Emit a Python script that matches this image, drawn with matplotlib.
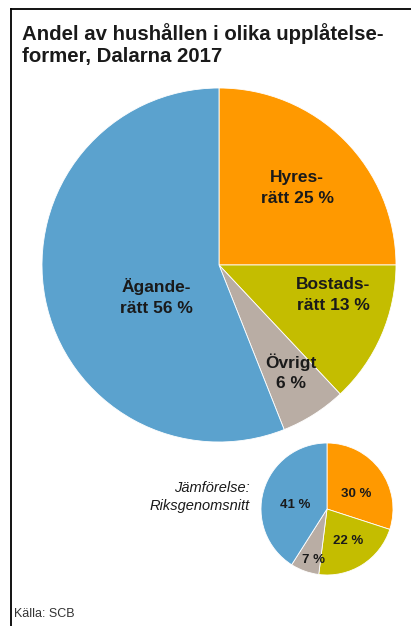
import matplotlib.pyplot as plt
from matplotlib.lines import Line2D

# Data ===========================================
categories = ['Hyresrätt', 'Bostadsrätt', 'Övrigt', 'Äganderätt']
dalarna = [25, 13, 6, 56]
riket = [30, 22, 7, 41]
colors = ['#FF9900', '#C4BD00', '#B9ADA4', '#5BA2CE']

labels_big = ['Hyres-\nrätt 25 %', 'Bostads-\nrätt 13 %', 'Övrigt\n6 %', 'Ägande-\nrätt 56 %']
labels_small = ['30 %', '22 %', '7 %', '41 %']

W, H = 411, 626
plt.rcParams['font.family'] = ['Liberation Sans', 'DejaVu Sans']

fig = plt.figure(figsize=(W / 100, H / 100), dpi=100)
ax = fig.add_axes([0, 0, 1, 1])

# big pie (pixel coords, y up)
ax.pie(dalarna, colors=colors, startangle=90, counterclock=False,
       center=(219, H - 265), radius=177,
       wedgeprops={'edgecolor': 'white', 'linewidth': 0.6})
# small pie
ax.pie(riket, colors=colors, startangle=90, counterclock=False,
       center=(327, H - 509), radius=66,
       wedgeprops={'edgecolor': 'white', 'linewidth': 0.6})

ax.set_xlim(0, W)
ax.set_ylim(0, H)
ax.set_aspect('equal')
ax.axis('off')

big_pos = [(297, 188), (333, 295), (291, 372), (156, 297)]
for (x, y), t in zip(big_pos, labels_big):
    ax.text(x, H - y, t, ha='center', va='center', fontsize=12.5,
            fontweight='bold', color='#1a1a1a', linespacing=1.45)

small_pos = [(356, 494), (348, 541), (313, 560), (295, 505)]
for (x, y), t in zip(small_pos, labels_small):
    ax.text(x, H - y, t, ha='center', va='center', fontsize=9.5,
            fontweight='bold', color='#1a1a1a')

ax.text(250, H - 497, 'Jämförelse:\nRiksgenomsnitt', ha='right', va='center',
        fontsize=10.5, style='italic', color='#1a1a1a', linespacing=1.3)

# title
ax.text(22, H - 45, 'Andel av hushållen i olika upplåtelse-\nformer, Dalarna 2017',
        ha='left', va='center', fontsize=14.7, fontweight='bold',
        color='#1a1a1a', linespacing=1.2)

ax.text(14, H - 614, 'Källa: SCB', ha='left', va='center', fontsize=9,
        color='#333333')

# frame (left and top)
fig.add_artist(Line2D([11 / W, 11 / W], [0, 1 - 9 / H], color='black', lw=1.3,
                      transform=fig.transFigure))
fig.add_artist(Line2D([11 / W, 1], [1 - 9 / H, 1 - 9 / H], color='black', lw=1.3,
                      transform=fig.transFigure))

fig.savefig('out.png', dpi=100, facecolor='white')
